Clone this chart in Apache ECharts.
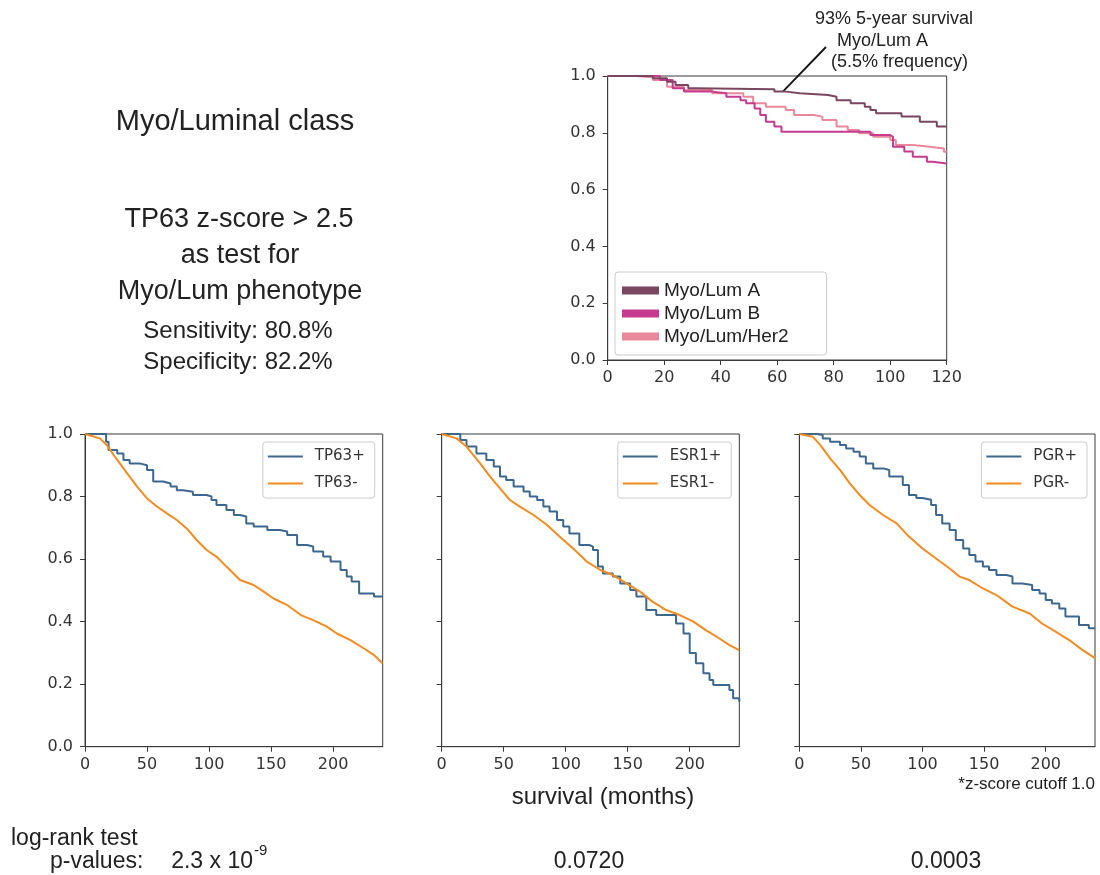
<!DOCTYPE html>
<html>
<head>
<meta charset="utf-8">
<title>Myo/Luminal class survival</title>
<script src="https://cdn.jsdelivr.net/npm/echarts@6/dist/echarts.min.js"></script>
<style>
html, body { margin: 0; padding: 0; background: #fff; }
#main { width: 1100px; height: 875px; }
</style>
</head>
<body>
<div id="main"></div>
<script>
// survival curves, [months, survival fraction]
var lumA = [[0,1],[15,1],[16,0.992],[21,0.98],[24,0.968],[28.5,0.957],[31,0.953],[59,0.945],[63,0.939],[68,0.933],
    [78,0.927],[81,0.915],[86,0.904],[91,0.892],[93,0.88],[95,0.869],[104,0.857],[110.5,0.839],[116.5,0.822],[120,0.822]];
var lumB = [[0,1],[14,1],[18.5,0.986],[23,0.957],[27,0.945],[37,0.939],[42,0.927],[47,0.915],[49,0.904],[52,0.886],
    [54,0.863],[56,0.839],[59,0.822],[61.5,0.804],[93,0.792],[100,0.786],[101,0.751],[105,0.734],[108,0.716],
    [113,0.698],[115,0.692],[120,0.692]];
var lumHer2 = [[0,1],[10,0.995],[16,0.986],[21,0.962],[27,0.951],[37,0.939],[48,0.927],[51.5,0.904],[56,0.892],
    [63,0.88],[66,0.863],[73,0.857],[76,0.845],[81,0.822],[85,0.81],[89,0.798],[94,0.786],[100,0.775],[102,0.757],
    [108,0.751],[114,0.745],[119,0.733],[120,0.733]];

var tp63Pos = [[0,1],[14,1],[17,0.975],[19,0.949],[26,0.938],[31,0.917],[36,0.906],[44,0.9],[50,0.885],[55,0.848],[63,0.842],
    [69,0.832],[74,0.82],[79,0.815],[87,0.805],[98,0.8],[102,0.789],[106,0.773],[114,0.757],[120,0.741],[125,0.736],
    [130,0.714],[136,0.704],[147,0.693],[157,0.688],[163,0.677],[171,0.645],[179,0.64],[184,0.624],[192,0.608],
    [198,0.592],[206,0.565],[211,0.544],[215,0.528],[221,0.49],[233,0.48],[240,0.48]];
var tp63Neg = [[0,1],[12,0.986],[17.5,0.965],[26,0.917],[34,0.874],[42,0.832],[50,0.794],[58,0.768],[66,0.746],
    [74,0.725],[82,0.698],[90,0.661],[98,0.629],[106,0.608],[114,0.576],[125,0.533],[136,0.517],[144,0.496],
    [152,0.474],[163,0.453],[174,0.421],[184,0.405],[195,0.384],[203,0.362],[214,0.341],[225,0.314],[233,0.293],[240,0.266]];

var esr1Pos = [[0,1],[9,1],[15,0.981],[20,0.96],[28,0.938],[36,0.917],[42,0.896],[47,0.864],[52,0.853],[58,0.832],
    [66,0.816],[71,0.8],[77,0.789],[82,0.768],[87,0.752],[93,0.725],[98,0.704],[103,0.682],[111,0.645],[119,0.64],
    [122,0.629],[126,0.576],[130,0.554],[138,0.544],[144,0.522],[152,0.501],[157,0.48],[165,0.437],[173,0.421],
    [189,0.394],[195,0.362],[200,0.3],[205,0.267],[211,0.235],[216,0.213],[219,0.197],[232,0.181],[235,0.155],[240,0.144]];
var esr1Neg = [[0,1],[12,0.986],[20,0.96],[31,0.906],[39,0.864],[47,0.826],[55,0.789],[63,0.768],[74,0.741],
    [85,0.709],[95,0.672],[106,0.634],[117,0.592],[128,0.565],[138,0.549],[149,0.522],[160,0.496],[170,0.464],
    [181,0.437],[192,0.421],[203,0.4],[213,0.373],[224,0.346],[232,0.325],[240,0.309]];

var pgrPos = [[0,1],[14,0.997],[19,0.986],[25,0.975],[33,0.965],[38,0.954],[44,0.943],[49,0.928],[54,0.906],
    [60,0.89],[68,0.885],[73,0.864],[84,0.837],[89,0.805],[95,0.795],[100,0.79],[107,0.773],[111,0.741],[116,0.714],
    [122,0.693],[127,0.661],[133,0.634],[138,0.613],[143,0.592],[149,0.576],[154,0.565],[160,0.549],[168,0.544],
    [173,0.522],[181,0.517],[189,0.501],[195,0.49],[200,0.469],[205,0.458],[211,0.442],[216,0.416],[227,0.389],
    [235,0.379],[240,0.379]];
var pgrNeg = [[0,1],[11,0.991],[17,0.965],[25,0.922],[33,0.885],[41,0.842],[49,0.805],[57,0.773],[68,0.741],
    [79,0.714],[89,0.672],[100,0.634],[111,0.602],[122,0.57],[130,0.544],[138,0.533],[149,0.506],[160,0.485],
    [173,0.448],[187,0.426],[197,0.394],[208,0.368],[219,0.341],[230,0.309],[240,0.283]];

var yTicks = [0, 0.2, 0.4, 0.6, 0.8, 1.0];
var xTicksTop = [0, 20, 40, 60, 80, 100, 120];
var xTicksBottom = [0, 50, 100, 150, 200];
var pValues = ['2.3 x 10', '0.0720', '0.0003'];

var axisColor = '#3a3a3a';
var blue = '#3c6890', orange = '#f28b20';
var tickFont = 'DejaVu Sans';
var textFont = 'Liberation Sans';

var grids = [
    { left: 607.7, top: 76, width: 339, height: 284 },
    { left: 85, top: 434, width: 297.7, height: 312.7 },
    { left: 441.7, top: 434, width: 297.6, height: 312.7 },
    { left: 799.3, top: 434, width: 295.7, height: 312.7 }
];

var xAxes = [], yAxes = [];
grids.forEach(function (g, i) {
    g.show = true;
    g.borderColor = axisColor;
    g.borderWidth = 1;
    g.containLabel = false;
    var ticks = i === 0 ? xTicksTop : xTicksBottom;
    xAxes.push({
        type: 'value', gridIndex: i, min: 0, max: i === 0 ? 120 : 240,
        splitLine: { show: false },
        axisLine: { show: true, onZero: false, lineStyle: { color: axisColor } },
        axisTick: { show: true, length: 5, customValues: ticks, lineStyle: { color: axisColor } },
        axisLabel: { customValues: ticks, margin: 10, color: '#333', fontFamily: tickFont, fontSize: 16 }
    });
    yAxes.push({
        type: 'value', gridIndex: i, min: 0, max: 1,
        splitLine: { show: false },
        axisLine: { show: true, onZero: false, lineStyle: { color: axisColor } },
        axisTick: { show: true, length: 5, customValues: yTicks, lineStyle: { color: axisColor } },
        axisLabel: {
            show: i < 2, customValues: yTicks, margin: 12, color: '#333', fontFamily: tickFont, fontSize: 16,
            formatter: function (v) { return v.toFixed(1); }
        }
    });
});

function km(name, data, color, idx, stepped) {
    return {
        name: name, type: 'line', data: data, xAxisIndex: idx, yAxisIndex: idx,
        step: stepped ? 'end' : false, showSymbol: false, color: color,
        lineStyle: { width: 2, color: color }, emphasis: { disabled: true }, animation: false
    };
}

var series = [
    km('Myo/Lum/Her2', lumHer2, '#e9899b', 0, true),
    km('Myo/Lum B', lumB, '#c43b8f', 0, true),
    km('Myo/Lum A', lumA, '#7b4660', 0, true),
    km('TP63+', tp63Pos, blue, 1, true),
    km('TP63-', tp63Neg, orange, 1, false),
    km('ESR1+', esr1Pos, blue, 2, true),
    km('ESR1-', esr1Neg, orange, 2, false),
    km('PGR+', pgrPos, blue, 3, true),
    km('PGR-', pgrNeg, orange, 3, false)
];

function smallLegend(names, g) {
    return {
        data: names, orient: 'vertical', top: 442, right: 1100 - (g.left + g.width) + 8,
        icon: 'rect', itemWidth: 35, itemHeight: 2, itemGap: 12, padding: [7, 10, 7, 5],
        borderColor: '#cccccc', borderWidth: 1, borderRadius: 3, backgroundColor: '#fff',
        textStyle: { fontFamily: tickFont, fontSize: 15, lineHeight: 15, color: '#333', padding: [0, 0, 0, 7] },
        selectedMode: false
    };
}

var legends = [
    {
        data: ['Myo/Lum A', 'Myo/Lum B', 'Myo/Lum/Her2'], orient: 'vertical', left: 615, top: 272,
        icon: 'rect', itemWidth: 37, itemHeight: 8, itemGap: 4, padding: [9, 38, 9, 7],
        borderColor: '#cccccc', borderWidth: 1, borderRadius: 3, backgroundColor: '#fff',
        textStyle: { fontFamily: textFont, fontSize: 19, lineHeight: 19, color: '#222' },
        selectedMode: false
    },
    smallLegend(['TP63+', 'TP63-'], grids[1]),
    smallLegend(['ESR1+', 'ESR1-'], grids[2]),
    smallLegend(['PGR+', 'PGR-'], grids[3])
];

function label(text, x, y, size, align, font) {
    return {
        type: 'text', x: x, y: y, silent: true,
        style: {
            text: text, fill: '#222', font: size + 'px "' + (font || textFont) + '"',
            textAlign: align || 'center', textVerticalAlign: 'middle'
        }
    };
}

var texts = [
    label('Myo/Luminal class', 235, 122, 29),
    label('TP63 z-score > 2.5', 239, 220, 27),
    label('as test for', 240, 256, 27),
    label('Myo/Lum phenotype', 240, 292, 27),
    label('Sensitivity: 80.8%', 238, 331, 24),
    label('Specificity: 82.2%', 238, 362, 24),
    label('93% 5-year survival', 815, 19, 18, 'left'),
    label('Myo/Lum A', 837, 41, 18, 'left'),
    label('(5.5% frequency)', 831, 62, 18, 'left'),
    label('survival (months)', 603, 797, 24),
    label('*z-score cutoff 1.0', 1095, 784, 17, 'right'),
    label('log-rank test', 11, 839, 23, 'left'),
    label('p-values:', 50, 862, 23, 'left'),
    label(pValues[0], 253, 862, 23, 'right'),
    label('-9', 254, 851, 15, 'left'),
    label(pValues[1], 589, 862, 23),
    label(pValues[2], 946, 862, 23)
];

var myChart = echarts.init(document.getElementById('main'), null, { renderer: 'canvas' });
myChart.setOption({
    backgroundColor: '#fff',
    animation: false,
    grid: grids,
    xAxis: xAxes,
    yAxis: yAxes,
    legend: legends,
    series: series,
    graphic: texts
});

// arrow from annotation to Myo/Lum A at 5 years
var tip = myChart.convertToPixel({ gridIndex: 0 }, [62, 0.945]);
myChart.setOption({
    graphic: texts.concat([{
        type: 'line', silent: true,
        shape: { x1: 826, y1: 47, x2: tip[0], y2: tip[1] },
        style: { stroke: '#111', lineWidth: 1.8 }
    }])
});
</script>
</body>
</html>
